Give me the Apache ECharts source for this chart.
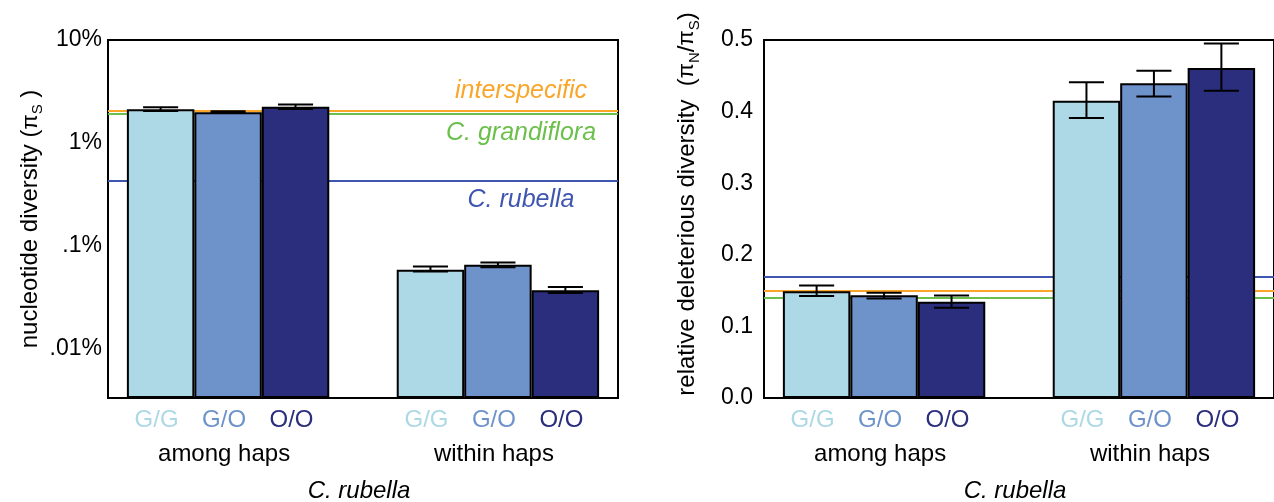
<!DOCTYPE html>
<html>
<head>
<meta charset="utf-8">
<script src="https://cdn.jsdelivr.net/npm/echarts@6/dist/echarts.min.js"></script>
<style>
html, body { margin: 0; padding: 0; background: #fff; }
#chart { width: 1274px; height: 502px; }
</style>
</head>
<body>
<div id="chart"></div>
<script>
var groups = ['among haps', 'within haps'];
var haps = ['G/G', 'G/O', 'O/O'];
var hapColors = ['#add8e6', '#6e92ca', '#2b2e7c'];
var refNames = ['interspecific', 'C. grandiflora', 'C. rubella'];
var refColors = ['#f9a62b', '#6bbf4b', '#3e56af'];

// left: nucleotide diversity pi_S in %, [among, within]
var piS_GG = [2.12, 0.0585];
var piS_GO = [1.99, 0.0653];
var piS_OO = [2.25, 0.0371];
var piS_GG_err = [[2.04, 2.22], [0.0564, 0.0631]];
var piS_GO_err = [[1.95, 2.03], [0.0620, 0.0690]];
var piS_OO_err = [[2.14, 2.36], [0.0348, 0.0397]];
var piS_ref = [2.07, 1.91, 0.43];
var piS_tickValues = [10, 1, 0.1, 0.01];
var piS_tickLabels = ['10%', '1%', '.1%', '.01%'];
var piS_min = 0.00332, piS_max = 10;

// right: relative deleterious diversity pi_N / pi_S
var ratio_GG = [0.149, 0.415];
var ratio_GO = [0.1435, 0.4395];
var ratio_OO = [0.1345, 0.461];
var ratio_GG_err = [[0.1425, 0.157], [0.391, 0.441]];
var ratio_GO_err = [[0.139, 0.147], [0.421, 0.457]];
var ratio_OO_err = [[0.126, 0.143], [0.429, 0.495]];
var ratio_ref = [0.1467, 0.1425, 0.173];

var font = 'Liberation Sans, Arial, sans-serif';

var panels = [
	{ vals: [piS_GG, piS_GO, piS_OO], errs: [piS_GG_err, piS_GO_err, piS_OO_err], ref: piS_ref, refLabels: true },
	{ vals: [ratio_GG, ratio_GO, ratio_OO], errs: [ratio_GG_err, ratio_GO_err, ratio_OO_err], ref: ratio_ref, refLabels: false }
];

// x slot of a bar: groups are 3 bars wide with a 1-bar gap between them
function slot(gi, h) {
	return gi * 4 + h + 0.5;
}

var series = [];
panels.forEach(function(panel, p) {
	// reference lines (behind bars)
	series.push({
		type: 'line',
		xAxisIndex: p,
		yAxisIndex: p,
		data: [],
		z: 1,
		markLine: {
			silent: true,
			symbol: 'none',
			animation: false,
			z: 1,
			data: panel.ref.map(function(v, i) {
				var d = [[0, 7], [0, 7], [0, 7]][i];
				return {
					yAxis: v,
					lineStyle: { color: refColors[i], width: 2, type: 'solid' },
					label: {
						show: panel.refLabels,
						position: i === 0 ? 'insideEndTop' : 'insideEndBottom',
						distance: d,
						formatter: '{a|' + refNames[i] + '}',
						rich: {
							a: { width: 194, align: 'center', color: refColors[i], fontSize: 25, fontStyle: 'italic', fontFamily: font }
						}
					}
				};
			})
		}
	});
	// bars
	haps.forEach(function(name, h) {
		series.push({
			name: name,
			type: 'bar',
			xAxisIndex: p,
			yAxisIndex: p,
			z: 3,
			barWidth: '100%',
			barGap: '-100%',
			data: groups.map(function(g, gi) {
				return [slot(gi, h), panel.vals[h][gi]];
			}),
			itemStyle: { color: hapColors[h], borderColor: '#000', borderWidth: 2 },
			label: {
				show: true,
				position: 'bottom',
				distance: 5,
				offset: [-4, 0],
				formatter: function(params) {
					var s = '{c|' + name + '}';
					if (h === 1) {
						s += '\n{g|' + groups[params.dataIndex] + '}';
					}
					return s;
				},
				rich: {
					c: { color: hapColors[h], fontSize: 24, lineHeight: 34, fontFamily: font },
					g: { color: '#000', fontSize: 24, lineHeight: 34, fontFamily: font }
				}
			}
		});
	});
	// error bars
	var errData = [];
	haps.forEach(function(name, h) {
		groups.forEach(function(g, gi) {
			errData.push([slot(gi, h), panel.errs[h][gi][0], panel.errs[h][gi][1]]);
		});
	});
	series.push({
		type: 'custom',
		xAxisIndex: p,
		yAxisIndex: p,
		z: 5,
		data: errData,
		encode: { x: 0, y: [1, 2] },
		renderItem: function(params, api) {
			var x = api.value(0);
			var lo = api.coord([x, api.value(1)]);
			var hi = api.coord([x, api.value(2)]);
			var half = api.size([1, 0])[0] * 0.26;
			var st = { stroke: '#000', lineWidth: 2 };
			return {
				type: 'group',
				children: [
					{ type: 'line', shape: { x1: lo[0], y1: lo[1], x2: hi[0], y2: hi[1] }, style: st },
					{ type: 'line', shape: { x1: lo[0] - half, y1: lo[1], x2: lo[0] + half, y2: lo[1] }, style: st },
					{ type: 'line', shape: { x1: hi[0] - half, y1: hi[1], x2: hi[0] + half, y2: hi[1] }, style: st }
				]
			};
		}
	});
});

var axisLine = { show: true, onZero: false, lineStyle: { color: '#000', width: 2 } };

var xAxes = [0, 1].map(function(p) {
	return {
		type: 'value',
		gridIndex: p,
		min: -0.28,
		max: 7.28,
		axisLine: axisLine,
		axisTick: { show: false },
		axisLabel: { show: false },
		splitLine: { show: false },
		name: 'C. rubella',
		nameLocation: 'middle',
		nameGap: 81,
		nameTextStyle: { fontStyle: 'italic', fontSize: 24, color: '#000', fontFamily: font, padding: [0, 8, 0, 0] }
	};
});

var nameRich = {
	t: { fontSize: 24, lineHeight: 30, color: '#000', fontFamily: font },
	p: { fontSize: 22, lineHeight: 30, color: '#000', fontFamily: font },
	s: { fontSize: 15, lineHeight: 18, verticalAlign: 'bottom', color: '#000', fontFamily: font }
};

var yAxes = [
	{
		type: 'log',
		gridIndex: 0,
		logBase: 10,
		min: piS_min,
		max: piS_max,
		startValue: piS_min,
		axisLine: axisLine,
		axisTick: { show: false },
		splitLine: { show: false },
		axisLabel: {
			fontSize: 23,
			color: '#000',
			fontFamily: font,
			margin: 6,
			padding: [5, 0, 0, 0],
			formatter: function(v) {
				for (var i = 0; i < piS_tickValues.length; i++) {
					if (Math.abs(v - piS_tickValues[i]) < piS_tickValues[i] * 1e-6) {
						return piS_tickLabels[i];
					}
				}
				return '';
			}
		},
		name: '{t|nucleotide diversity (}{p|π}{s|S}{t| )}',
		nameLocation: 'middle',
		nameGap: 62,
		nameTextStyle: { rich: nameRich }
	},
	{
		type: 'value',
		gridIndex: 1,
		min: 0,
		max: 0.5,
		interval: 0.1,
		axisLine: axisLine,
		axisTick: { show: false },
		splitLine: { show: false },
		axisLabel: {
			fontSize: 23,
			color: '#000',
			fontFamily: font,
			margin: 11,
			padding: [5, 0, 0, 0],
			formatter: function(v) { return v.toFixed(1); }
		},
		name: '{t|relative deleterious diversity  (}{p|π}{s|N}{t|/}{p|π}{s|S}{t|)}',
		nameLocation: 'middle',
		nameGap: 62,
		nameTextStyle: { rich: nameRich, padding: [0, 0, 0, 30] }
	}
];

var chart = echarts.init(document.getElementById('chart'));
chart.setOption({
	animation: false,
	backgroundColor: '#fff',
	textStyle: { fontFamily: font },
	grid: [
		{ left: 108, right: 656, top: 40, bottom: 104, outerBoundsMode: 'none', show: true, borderColor: '#000', borderWidth: 2 },
		{ left: 764, right: 0, top: 40, bottom: 104, outerBoundsMode: 'none', show: true, borderColor: '#000', borderWidth: 2 }
	],
	xAxis: xAxes,
	yAxis: yAxes,
	series: series
});
</script>
</body>
</html>
